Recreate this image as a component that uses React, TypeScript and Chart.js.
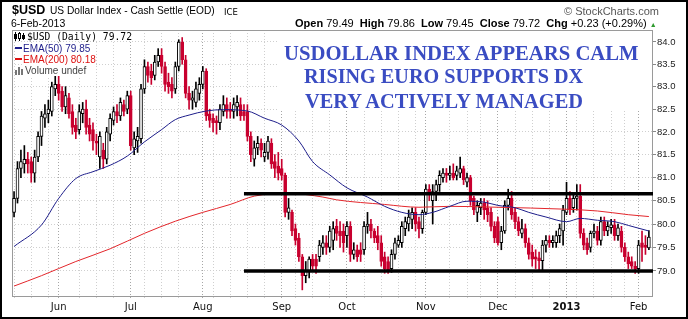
import React, { useEffect, useRef } from 'react';
import { Chart, registerables } from 'chart.js';

Chart.register(...registerables);

// ---- Daily OHLC of $USD, 14-May-2012 .. 6-Feb-2013 (one entry per trading day) ----
const opens = [
  80.25, 80.55, 81.20, 81.30, 81.40, 81.35, 81.10, 81.45, 81.90, 82.30,
  82.40, 82.45, 82.95, 83.05, 82.90, 82.55, 82.75, 82.45, 82.15, 82.05,
  82.40, 82.50, 82.15, 82.05, 81.80, 81.45, 81.60, 81.40, 81.95, 82.25,
  82.45, 82.35, 82.60, 82.50, 82.80, 81.65, 81.80, 81.85, 82.95, 83.45,
  83.35, 83.25, 83.55, 83.70, 83.45, 83.10, 83.05, 82.95, 83.45, 84.00,
  83.60, 82.85, 82.70, 82.65, 82.85, 83.05, 83.35, 82.40, 82.30, 82.25,
  82.20, 82.45, 82.60, 82.50, 82.45, 82.55, 82.60, 82.45, 82.45, 81.90,
  81.40, 81.65, 81.75, 81.45, 81.55, 81.75, 81.35, 81.25, 81.20, 81.05,
  80.25, 80.25, 79.90, 79.70, 79.30, 78.90, 79.00, 79.25, 79.25, 79.30,
  79.50, 79.60, 79.50, 79.65, 79.95, 79.85, 79.85, 79.75, 79.95, 79.35,
  79.45, 79.45, 79.45, 79.95, 80.00, 79.85, 79.75, 79.60, 79.30, 79.20,
  79.05, 79.35, 79.55, 79.60, 79.90, 80.00, 80.10, 80.25, 80.05, 79.90,
  80.25, 80.75, 80.50, 80.70, 80.85, 81.00, 81.10, 81.05, 81.10, 81.05,
  81.10, 81.20, 80.90, 81.00, 80.55, 80.25, 80.35, 80.45, 80.35, 80.25,
  79.95, 80.05, 79.60, 79.85, 80.40, 80.55, 80.25, 80.05, 79.80, 79.90,
  79.60, 79.40, 79.30, 79.28, 79.22, 79.55, 79.65, 79.60, 79.60, 79.75,
  79.85, 80.25, 80.55, 80.35, 80.55, 80.60, 79.80, 79.60, 79.50, 79.80,
  79.85, 79.65, 80.05, 79.85, 79.92, 79.98, 79.75, 79.85, 79.50, 79.30,
  79.20, 79.10, 79.05, 79.60, 79.55, 79.49,
];
const highs = [
  80.70, 81.35, 81.60, 81.70, 81.55, 81.45, 81.60, 82.00, 82.45, 82.60,
  82.70, 83.10, 83.25, 83.25, 83.00, 83.00, 82.85, 82.60, 82.30, 82.60,
  82.65, 82.70, 82.30, 82.20, 81.95, 82.00, 81.75, 82.10, 82.40, 82.55,
  82.60, 82.75, 82.70, 82.90, 82.90, 82.00, 82.10, 83.05, 83.60, 83.55,
  83.50, 83.70, 83.85, 83.85, 83.55, 83.30, 83.20, 83.55, 84.05, 84.10,
  83.70, 83.00, 82.90, 83.10, 83.20, 83.45, 83.40, 82.50, 82.40, 82.35,
  82.60, 82.80, 82.75, 82.65, 82.75, 82.80, 82.75, 82.60, 82.60, 82.00,
  81.80, 81.90, 81.85, 81.75, 81.90, 81.85, 81.50, 81.55, 81.40, 81.10,
  80.55, 80.30, 80.00, 79.80, 79.35, 79.20, 79.30, 79.35, 79.35, 79.65,
  79.75, 79.75, 79.95, 80.05, 80.10, 80.05, 80.00, 80.05, 80.05, 79.60,
  79.55, 79.60, 80.05, 80.25, 80.10, 79.90, 79.95, 79.75, 79.40, 79.30,
  79.45, 79.70, 79.75, 80.05, 80.15, 80.30, 80.35, 80.35, 80.15, 80.30,
  80.85, 80.85, 80.85, 80.95, 81.15, 81.20, 81.20, 81.25, 81.30, 81.25,
  81.45, 81.25, 81.10, 81.05, 80.60, 80.50, 80.55, 80.55, 80.50, 80.35,
  80.05, 80.15, 79.95, 80.50, 80.75, 80.70, 80.35, 80.15, 80.10, 80.00,
  79.70, 79.55, 79.45, 79.40, 79.65, 79.75, 79.75, 79.75, 79.85, 80.00,
  80.40, 80.90, 80.70, 80.65, 80.85, 80.85, 79.90, 79.70, 79.85, 80.00,
  79.95, 80.15, 80.15, 80.05, 80.10, 80.10, 80.00, 79.95, 79.60, 79.40,
  79.30, 79.20, 79.65, 79.85, 79.75, 79.86,
];
const lows = [
  80.15, 80.45, 81.00, 81.10, 81.10, 80.90, 80.90, 81.35, 81.70, 82.10,
  82.20, 82.35, 82.80, 82.70, 82.45, 82.40, 82.30, 81.95, 81.85, 81.95,
  82.20, 81.95, 81.80, 81.60, 81.50, 81.20, 81.20, 81.30, 81.80, 82.15,
  82.20, 82.25, 82.35, 82.40, 81.60, 81.50, 81.55, 81.75, 82.85, 83.10,
  83.05, 83.15, 83.45, 83.30, 82.90, 82.85, 82.75, 82.85, 83.35, 83.50,
  82.75, 82.50, 82.50, 82.55, 82.70, 82.95, 82.25, 82.10, 82.00, 81.95,
  82.05, 82.35, 82.30, 82.30, 82.30, 82.35, 82.25, 82.25, 81.80, 81.35,
  81.25, 81.50, 81.45, 81.35, 81.40, 81.20, 81.00, 80.95, 80.95, 80.15,
  80.10, 79.75, 79.55, 79.20, 78.60, 78.75, 78.85, 79.00, 78.95, 79.20,
  79.35, 79.35, 79.40, 79.45, 79.65, 79.50, 79.40, 79.50, 79.20, 79.25,
  79.20, 79.20, 79.35, 79.80, 79.70, 79.60, 79.45, 79.10, 78.95, 78.95,
  78.97, 79.25, 79.50, 79.50, 79.75, 79.85, 79.90, 79.85, 79.70, 79.80,
  80.20, 80.50, 80.00, 80.50, 80.70, 80.90, 80.90, 80.95, 80.95, 80.95,
  81.00, 80.85, 80.80, 80.40, 80.20, 80.05, 80.20, 80.10, 80.05, 79.85,
  79.60, 79.55, 79.45, 79.80, 80.30, 80.10, 79.90, 79.75, 79.70, 79.50,
  79.25, 79.10, 79.05, 79.00, 79.00, 79.40, 79.50, 79.50, 79.50, 79.60,
  79.55, 80.20, 80.20, 80.25, 80.30, 79.70, 79.45, 79.35, 79.40, 79.70,
  79.55, 79.55, 79.75, 79.75, 79.80, 79.65, 79.65, 79.40, 79.20, 79.05,
  79.05, 78.95, 78.95, 79.20, 79.35, 79.45,
];
const closes = [
  80.55, 81.20, 81.35, 81.40, 81.30, 81.10, 81.45, 81.90, 82.35, 82.40,
  82.50, 83.00, 83.05, 82.85, 82.55, 82.80, 82.40, 82.10, 82.00, 82.45,
  82.50, 82.10, 81.95, 81.80, 81.75, 81.90, 81.40, 82.00, 82.30, 82.45,
  82.35, 82.65, 82.45, 82.80, 81.70, 81.85, 81.90, 82.95, 83.45, 83.25,
  83.20, 83.55, 83.70, 83.45, 83.05, 83.00, 82.90, 83.45, 84.00, 83.60,
  82.85, 82.70, 82.75, 82.95, 83.05, 83.35, 82.35, 82.25, 82.20, 82.20,
  82.50, 82.60, 82.45, 82.45, 82.60, 82.65, 82.35, 82.35, 81.90, 81.50,
  81.65, 81.75, 81.60, 81.55, 81.80, 81.30, 81.20, 81.10, 81.05, 80.25,
  80.35, 79.85, 79.65, 79.30, 78.90, 79.00, 79.25, 79.10, 79.10, 79.55,
  79.60, 79.50, 79.85, 79.90, 79.80, 79.75, 79.60, 79.95, 79.35, 79.45,
  79.30, 79.35, 79.95, 80.00, 79.85, 79.70, 79.60, 79.20, 79.05, 79.00,
  79.35, 79.60, 79.65, 79.95, 80.05, 80.15, 80.25, 80.00, 79.90, 80.25,
  80.75, 80.65, 80.70, 80.85, 81.05, 81.10, 81.05, 81.10, 81.00, 81.15,
  81.20, 80.95, 81.00, 80.50, 80.30, 80.40, 80.45, 80.30, 80.20, 79.95,
  79.70, 79.60, 79.85, 80.40, 80.55, 80.20, 80.05, 79.85, 79.90, 79.60,
  79.35, 79.25, 79.25, 79.22, 79.55, 79.65, 79.60, 79.65, 79.75, 79.90,
  80.30, 80.55, 80.30, 80.55, 80.60, 79.80, 79.55, 79.45, 79.80, 79.85,
  79.65, 80.05, 79.85, 79.95, 79.98, 79.75, 79.92, 79.50, 79.30, 79.15,
  79.10, 79.05, 79.55, 79.50, 79.50, 79.72,
];

// ---- Moving averages (trading-day index, value) ----
const ema50Idx = [0, 8, 13, 18, 23, 28, 33, 38, 43, 47, 51, 56, 61, 68, 73, 78, 83, 87, 92, 97, 103, 108, 113, 118, 122, 127, 132, 137, 141, 146, 150, 155, 161, 165, 170, 175, 179, 185];
const ema50Val = [79.52, 79.98, 80.55, 80.98, 81.13, 81.27, 81.47, 81.78, 82.05, 82.27, 82.37, 82.46, 82.49, 82.46, 82.30, 82.15, 81.80, 81.35, 81.06, 80.78, 80.58, 80.38, 80.25, 80.20, 80.25, 80.38, 80.49, 80.47, 80.40, 80.35, 80.25, 80.15, 80.05, 80.12, 80.08, 80.05, 79.97, 79.85];
const ema200Idx = [0, 8, 18, 28, 38, 47, 55, 63, 70, 80, 90, 94, 108, 118, 127, 141, 160, 170, 179, 185];
const ema200Val = [78.68, 78.90, 79.20, 79.47, 79.80, 80.06, 80.25, 80.42, 80.60, 80.66, 80.58, 80.52, 80.42, 80.36, 80.38, 80.36, 80.32, 80.28, 80.20, 80.16];

// ---- Hand-drawn support / resistance lines ----
const levelHigh = 80.65;
const levelLow = 79.0;
const levelFrom = 67;
const levelTo = 186.2;

// ---- Axis ticks ----
const monthIdx = [13, 34, 55, 78, 97, 120, 141, 161, 182];
const monthLabels = ['Jun', 'Jul', 'Aug', 'Sep', 'Oct', 'Nov', 'Dec', '2013', 'Feb'];
const weekIdx = [0, 5, 10, 14, 19, 24, 29, 34, 38, 43, 48, 53, 58, 63, 68, 73, 78, 82, 87, 92, 97, 102, 107, 112, 117, 122, 127, 132, 136, 141, 146, 151, 156, 160, 164, 169, 174, 178, 183];
const yTicks = [79.0, 79.5, 80.0, 80.5, 81.0, 81.5, 82.0, 82.5, 83.0, 83.5, 84.0];

const gridIdx = Array.from(new Set([
  ...monthIdx,
  ...weekIdx.filter((w) => !monthIdx.some((m) => m !== w && Math.abs(m - w) <= 2)),
])).sort((a, b) => a - b);

const RED = '#c8002f';
const NAVY = '#1d1d8a';
const EMA_RED = '#e3262b';

const framePlugin = {
  id: 'plotFrame',
  beforeDatasetsDraw(chart: any) {
    const { ctx, chartArea: a } = chart;
    ctx.save();
    ctx.strokeStyle = '#9a9a9a';
    ctx.lineWidth = 1;
    ctx.strokeRect(Math.round(a.left) + 0.5, Math.round(a.top) + 0.5, Math.round(a.right - a.left) - 1, Math.round(a.bottom - a.top) - 1);
    ctx.restore();
  },
};

function Txt(props: any) {
  const { x, right, base, size, family = "'Liberation Sans', Arial, sans-serif", weight = 'normal', color = '#000', children, bg } = props;
  const style: any = {
    position: 'absolute',
    top: base - 0.846 * size,
    fontSize: size,
    lineHeight: size + 'px',
    fontFamily: family,
    fontWeight: weight,
    color,
    whiteSpace: 'nowrap',
  };
  if (bg) style.background = bg;
  if (right !== undefined) style.right = 688 - right;
  else style.left = x;
  return <div style={style}>{children}</div>;
}

export default function App() {
  const canvasRef = useRef<HTMLCanvasElement | null>(null);

  useEffect(() => {
    const canvas = canvasRef.current;
    if (!canvas) return;
    const isUp = closes.map((c, i) => c >= opens[i]);
    const wicks = closes.map((_, i) => ({ x: i, y: [lows[i], highs[i]] }));
    const bodies = closes.map((c, i) => ({ x: i, y: [Math.min(opens[i], c), Math.max(opens[i], c)] }));
    const ema50 = ema50Idx.map((x, k) => ({ x, y: ema50Val[k] }));
    const ema200 = ema200Idx.map((x, k) => ({ x, y: ema200Val[k] }));

    const chart = new Chart(canvas, {
      type: 'bar',
      data: {
        datasets: [
          {
            type: 'line', data: [{ x: levelFrom, y: levelHigh }, { x: levelTo, y: levelHigh }],
            borderColor: '#000', borderWidth: 3.5, pointRadius: 0, order: 0,
          } as any,
          {
            type: 'line', data: [{ x: levelFrom, y: levelLow }, { x: levelTo, y: levelLow }],
            borderColor: '#000', borderWidth: 3.5, pointRadius: 0, order: 0,
          } as any,
          {
            type: 'line', data: ema50, borderColor: NAVY, borderWidth: 1, pointRadius: 0,
            cubicInterpolationMode: 'monotone', order: 1,
          } as any,
          {
            type: 'line', data: ema200, borderColor: EMA_RED, borderWidth: 1, pointRadius: 0,
            cubicInterpolationMode: 'monotone', order: 1,
          } as any,
          {
            type: 'bar', data: bodies as any,
            backgroundColor: isUp.map((u) => (u ? '#ffffff' : RED)),
            borderColor: isUp.map((u) => (u ? '#000000' : RED)),
            borderWidth: 1, borderSkipped: false, barThickness: 3, minBarLength: 1,
            grouped: false, order: 2,
          } as any,
          {
            type: 'bar', data: wicks as any,
            backgroundColor: isUp.map((u) => (u ? '#000000' : RED)),
            barThickness: 1, grouped: false, order: 3,
          } as any,
        ],
      },
      options: {
        responsive: false,
        animation: false,
        events: [],
        layout: { padding: { left: 12, top: 30, right: 0, bottom: 0 } },
        plugins: { legend: { display: false }, tooltip: { enabled: false } },
        scales: {
          x: {
            type: 'linear', min: -0.6, max: 186.2, offset: false,
            afterBuildTicks: (s: any) => { s.ticks = gridIdx.map((v) => ({ value: v })); },
            afterFit: (s: any) => { s.height = 22; },
            grid: {
              offset: false,
              color: (c: any) => (c.tick && monthIdx.includes(c.tick.value) ? '#a6a6a6' : '#cfcfcf'),
              lineWidth: 1, drawTicks: true, tickLength: 3, tickBorderDash: [1, 2],
            },
            border: { display: false, dash: [1, 2] },
            ticks: {
              autoSkip: false, maxRotation: 0, minRotation: 0, padding: 1, color: '#111',
              font: (c: any) => ({ family: "'DejaVu Sans', sans-serif", size: 10, weight: c.tick && c.tick.value === 161 ? 'bold' : 'normal' }),
              callback: (v: any) => { const k = monthIdx.indexOf(Number(v)); return k >= 0 ? monthLabels[k] : ''; },
            },
          } as any,
          y: {
            type: 'logarithmic', position: 'right', min: 78.45, max: 84.27,
            afterBuildTicks: (s: any) => { s.ticks = yTicks.map((v) => ({ value: v })); },
            afterFit: (s: any) => { s.width = 35; },
            grid: { color: '#cfcfcf', lineWidth: 1, drawTicks: true, tickLength: 3, tickColor: '#888', tickBorderDash: [] },
            border: { display: false, dash: [1, 2] },
            ticks: {
              padding: 1, color: '#222',
              font: { family: "'Liberation Sans', Arial, sans-serif", size: 9.5 },
              callback: (v: any) => Number(v).toFixed(1),
            },
          } as any,
        },
      },
      plugins: [framePlugin],
    });
    return () => chart.destroy();
  }, []);

  const annFont = "'Liberation Serif', 'Times New Roman', serif";
  return (
    <div style={{ position: 'absolute', left: 0, top: 0, width: 688, height: 319, background: '#fff', overflow: 'hidden' }}>
      <canvas ref={canvasRef} width={688} height={319} style={{ position: 'absolute', left: 0, top: 0, width: 688, height: 319 }} />

      {/* header */}
      <Txt x={12} base={15} size={12.5} weight="bold">$USD</Txt>
      <Txt x={50} base={15} size={10.2}>US Dollar Index - Cash Settle (EOD)</Txt>
      <Txt x={224} base={15} size={8.5} family="'DejaVu Sans', sans-serif">ICE</Txt>
      <Txt x={564} base={15} size={11} color="#555">© StockCharts.com</Txt>
      <Txt x={11} base={27} size={10.5}>6-Feb-2013</Txt>
      <Txt x={295} base={27} size={11}>
        <b>Open</b> 79.49 &nbsp;<b>High</b> 79.86 &nbsp;<b>Low</b> 79.45 &nbsp;<b>Close</b> 79.72 &nbsp;<b>Chg</b> +0.23 (+0.29%) <span style={{ color: '#2e9a2e', fontSize: 7 }}>▲</span>
      </Txt>

      {/* legend */}
      <svg width={11} height={9} style={{ position: 'absolute', left: 14, top: 32, background: '#fff' }}>
        <line x1={1.5} y1={0} x2={1.5} y2={9} stroke="#000" />
        <rect x={0.5} y={2.5} width={2} height={4} fill="#000" stroke="#000" />
        <line x1={5.5} y1={0} x2={5.5} y2={9} stroke="#000" />
        <rect x={4.5} y={1.5} width={2} height={5} fill="#fff" stroke="#000" />
        <line x1={9.5} y1={1} x2={9.5} y2={8} stroke="#000" />
        <rect x={8.5} y={3.5} width={2} height={3} fill="#000" stroke="#000" />
      </svg>
      <Txt x={27} base={40} size={9.7} family="'DejaVu Sans Mono', monospace" bg="#fff">$USD (Daily) 79.72</Txt>
      <div style={{ position: 'absolute', left: 15, top: 47, width: 7, height: 2, background: NAVY }} />
      <Txt x={23} base={52} size={10} color={NAVY} bg="#fff">EMA(50) 79.85</Txt>
      <div style={{ position: 'absolute', left: 15, top: 58, width: 7, height: 2, background: '#dd1111' }} />
      <Txt x={23} base={63} size={10} color="#dd1111" bg="#fff">EMA(200) 80.18</Txt>
      <svg width={10} height={9} style={{ position: 'absolute', left: 15, top: 66, background: '#fff' }}>
        <rect x={0} y={4} width={2} height={5} fill="#777" />
        <rect x={3} y={1} width={2} height={8} fill="#777" />
        <rect x={6} y={3} width={2} height={6} fill="#777" />
      </svg>
      <Txt x={25} base={74} size={10} color="#444" bg="#fff">Volume undef</Txt>

      {/* annotation */}
      <div style={{ position: 'absolute', left: 279, top: 31, width: 373, height: 79, background: '#fff' }} />
      <Txt x={284} base={61} size={20.7} family={annFont} weight="bold" color="#3a4cc2">USDOLLAR INDEX APPEARS CALM</Txt>
      <Txt x={304} base={83} size={20.2} family={annFont} weight="bold" color="#3a4cc2">RISING EURO SUPPORTS DX</Txt>
      <Txt x={305} base={108} size={20.4} family={annFont} weight="bold" color="#3a4cc2">VERY ACTIVELY MANAGED</Txt>

      {/* outer frame */}
      <div style={{ position: 'absolute', left: 0, top: 0, width: 688, height: 319, border: '2px solid #000', boxSizing: 'border-box', pointerEvents: 'none' }} />
    </div>
  );
}
